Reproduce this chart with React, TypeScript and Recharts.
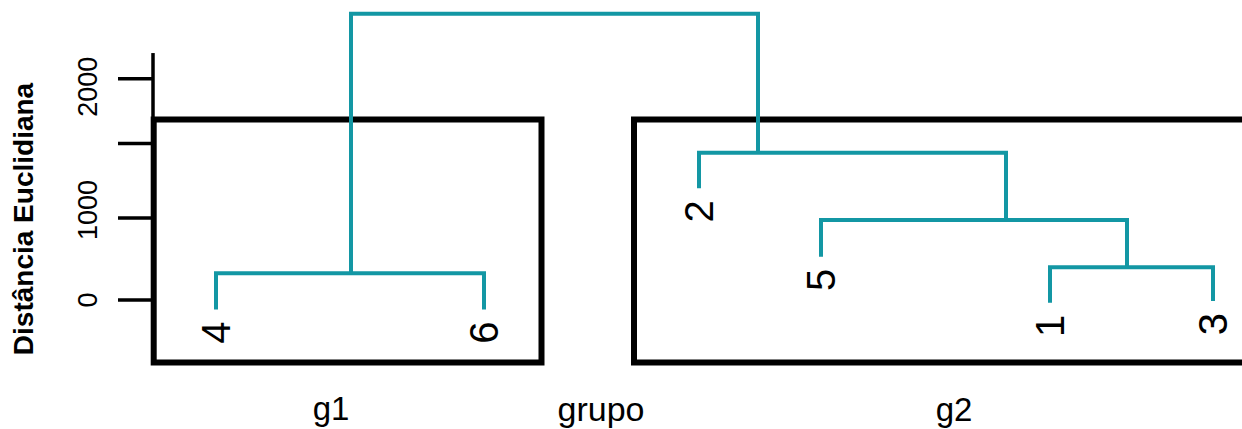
import { ComposedChart, Line, Scatter, XAxis, YAxis, ReferenceArea, ReferenceLine } from "recharts";

// leaves (dendrogram order) – x position and height where the branch ends
const leafNames = ["4", "6", "2", "5", "1", "3"];
const leafX = [0.63, 3.31, 5.46, 6.68, 8.97, 10.6];
const leafY = [-115, -115, 1362, 528, -33, -12];

// merges: left child (x, y), merge height, right child (x, y)
const mergeNames = ["4-6", "1-3", "5-(1-3)", "2-(5-1-3)", "raiz"];
const mergeLeftX = [0.63, 8.97, 6.68, 5.46, 1.98];
const mergeLeftY = [-115, -33, 528, 1362, 325];
const mergeHeight = [325, 400, 975, 1795, 3490];
const mergeRightX = [3.31, 10.6, 9.74, 8.53, 6.05];
const mergeRightY = [-115, -12, 400, 975, 1795];

// axis
const yTicks = [0, 1000, 1910, 2700];
const yTickLabels = ["0", "1000", "", "2000"];

// group boxes (rect.hclust)
const groupNames = ["g1", "g2"];
const groupX1 = [0.007, 4.81];
const groupX2 = [3.885, 11.5];
const groupBottom = -762;
const groupTop = 2201;

const TEAL = "#1397a4";
// small vertical nudges of the tick labels, as in the original plot
const LABEL_SHIFT = [0, -8, 0, 8];

const leaves = leafNames.map((name, i) => ({ name, x: leafX[i], y: leafY[i] }));
const merges = mergeNames.map((name, i) => ({
  name,
  points: [
    { x: mergeLeftX[i], y: mergeLeftY[i] },
    { x: mergeLeftX[i], y: mergeHeight[i] },
    { x: mergeRightX[i], y: mergeHeight[i] },
    { x: mergeRightX[i], y: mergeRightY[i] },
  ],
}));

const YTick = (props: any) => {
  const { y, payload } = props;
  const idx = yTicks.indexOf(payload.value);
  const ty = y + (LABEL_SHIFT[idx] || 0);
  return (
    <text x={97} y={ty} transform={`rotate(-90 97 ${ty})`} textAnchor="middle" fontSize={27} fill="#000">
      {yTickLabels[idx]}
    </text>
  );
};

const LeafLabel = (props: any) => {
  const { cx, cy, payload } = props;
  const tx = cx + 14;
  const ty = cy + 12;
  return (
    <text x={tx} y={ty} transform={`rotate(-90 ${tx} ${ty})`} textAnchor="end" fontSize={40} fill="#000">
      {payload.name}
    </text>
  );
};

export default function App() {
  return (
    <div style={{ width: 1242, height: 429, fontFamily: "'Liberation Sans', Arial, Helvetica, sans-serif", background: "#fff" }}>
      <style>{"body{margin:0}"}</style>
      <ComposedChart width={1242} height={429} margin={{ top: 0, right: 0, bottom: 0, left: 0 }}>
        <XAxis type="number" dataKey="x" domain={[0, 10.89]} allowDataOverflow hide />
        <YAxis
          type="number"
          domain={[-1573, 3659]}
          allowDataOverflow
          width={153}
          ticks={yTicks}
          axisLine={false}
          tickSize={35}
          tickLine={{ stroke: "#000", strokeWidth: 3.5 }}
          tick={<YTick />}
        />
        {groupNames.map((g, i) => (
          <ReferenceArea
            key={g}
            x1={groupX1[i]}
            x2={groupX2[i]}
            y1={groupBottom}
            y2={groupTop}
            fill="none"
            fillOpacity={0}
            stroke="#000"
            strokeWidth={6}
            ifOverflow="visible"
          />
        ))}
        <ReferenceLine
          segment={[{ x: 0, y: 0 }, { x: 0, y: 3012 }]}
          stroke="#000"
          strokeWidth={3.5}
          ifOverflow="visible"
        />
        {merges.map((m) => (
          <Line
            key={m.name}
            data={m.points}
            dataKey="y"
            type="linear"
            stroke={TEAL}
            strokeWidth={4}
            dot={false}
            activeDot={false}
            isAnimationActive={false}
          />
        ))}
        <Scatter data={leaves} dataKey="y" shape={<LeafLabel />} isAnimationActive={false} />
        <text x={33} y={219} transform="rotate(-90 33 219)" textAnchor="middle" fontWeight="bold" fontSize={28} fill="#000">
          Distância Euclidiana
        </text>
        <text x={331} y={420} textAnchor="middle" fontSize={33} fill="#000">g1</text>
        <text x={601} y={421} textAnchor="middle" fontSize={34} fill="#000">grupo</text>
        <text x={954} y={421} textAnchor="middle" fontSize={33} fill="#000">g2</text>
      </ComposedChart>
    </div>
  );
}
